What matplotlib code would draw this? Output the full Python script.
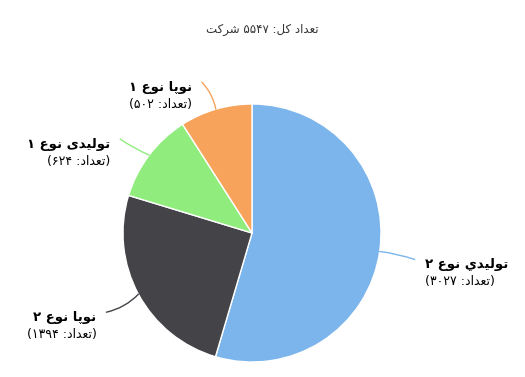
import re
import numpy as np
import matplotlib
matplotlib.use("Agg")
import matplotlib.pyplot as plt

# data
categories = ["توليدي نوع ۲", "نوپا نوع ۲", "تولیدی نوع ۱", "نوپا نوع ۱"]
counts = [3027, 1394, 624, 502]
colors = ["#7cb5ec", "#434348", "#90ed7d", "#f7a35c"]

# connector offset from slice edge to label (pixels, y up) and bend -- layout only
label_offsets = [(35, -8), (-32, -18), (-29, 16), (-14, 27)]
connector_rad = [0.05, 0.15, 0.05, -0.15]

# minimal arabic/persian shaping (matplotlib has no complex text layout)
FORMS = {
    "ا": ("\uFE8D", "\uFE8E", None, None),
    "د": ("\uFEA9", "\uFEAA", None, None),
    "ر": ("\uFEAD", "\uFEAE", None, None),
    "و": ("\uFEED", "\uFEEE", None, None),
    "ت": ("\uFE95", "\uFE96", "\uFE97", "\uFE98"),
    "ش": ("\uFEB5", "\uFEB6", "\uFEB7", "\uFEB8"),
    "ع": ("\uFEC9", "\uFECA", "\uFECB", "\uFECC"),
    "ل": ("\uFEDD", "\uFEDE", "\uFEDF", "\uFEE0"),
    "ن": ("\uFEE5", "\uFEE6", "\uFEE7", "\uFEE8"),
    "ي": ("\uFEF1", "\uFEF2", "\uFEF3", "\uFEF4"),
    "ی": ("\uFBFC", "\uFBFD", "\uFBFE", "\uFBFF"),
    "پ": ("\uFB56", "\uFB57", "\uFB58", "\uFB59"),
    "ک": ("\uFB8E", "\uFB8F", "\uFB90", "\uFB91"),
}


def shape(s):
    out = []
    for i, ch in enumerate(s):
        if ch not in FORMS:
            out.append(ch)
            continue
        f = FORMS[ch]
        prev = s[i - 1] if i > 0 else ""
        nxt = s[i + 1] if i + 1 < len(s) else ""
        join_prev = prev in FORMS and FORMS[prev][2] is not None
        join_next = nxt in FORMS and f[2] is not None
        if join_prev and join_next:
            out.append(f[3])
        elif join_prev:
            out.append(f[1])
        elif join_next:
            out.append(f[2])
        else:
            out.append(f[0])
    return "".join(out)


def rtl(s):
    s = shape(s)[::-1]
    s = s.translate(str.maketrans("()", ")("))
    return re.sub(r"[۰-۹0-9]+", lambda m: m.group(0)[::-1], s)


def fa_num(n):
    return str(n).translate(str.maketrans("0123456789", "۰۱۲۳۴۵۶۷۸۹"))


W, H = 525, 377
fig = plt.figure(figsize=(W / 100, H / 100), dpi=100)
ax = fig.add_axes([0, 0, 1, 1])

cx, cy, r = 252, H - 233, 129
wedges, _ = ax.pie(counts, colors=colors, startangle=90, counterclock=False,
                   radius=r, center=(cx, cy),
                   wedgeprops=dict(edgecolor="white", linewidth=1))
ax.set_xlim(0, W)
ax.set_ylim(0, H)
ax.set_aspect("equal")
ax.axis("off")

for w, cat, n, col, (dx, dy), rad in zip(wedges, categories, counts, colors,
                                         label_offsets, connector_rad):
    mid = np.deg2rad((w.theta1 + w.theta2) / 2)
    ex, ey = cx + r * np.cos(mid), cy + r * np.sin(mid)
    ox, oy = ex + dx, ey + dy
    ax.annotate("", xy=(ex, ey), xytext=(ox, oy),
                arrowprops=dict(arrowstyle="-", color=col, lw=1,
                                connectionstyle=f"arc3,rad={rad}",
                                shrinkA=0, shrinkB=0))
    right = np.cos(mid) > 0
    tx = ox + 10 if right else ox - 10
    ha = "left" if right else "right"
    ax.text(tx, oy - 5, rtl(cat), ha=ha, va="center", fontsize=9.5,
            fontweight="bold", color="black")
    ax.text(tx, oy - 22, rtl("(تعداد: " + fa_num(n) + ")"), ha=ha,
            va="center", fontsize=9, color="black")

ax.text(W / 2, H - 30, rtl("تعداد کل: " + fa_num(sum(counts)) + " شرکت"),
        ha="center", va="center", fontsize=8.5, color="#333333")

fig.savefig("out.png", dpi=100)
